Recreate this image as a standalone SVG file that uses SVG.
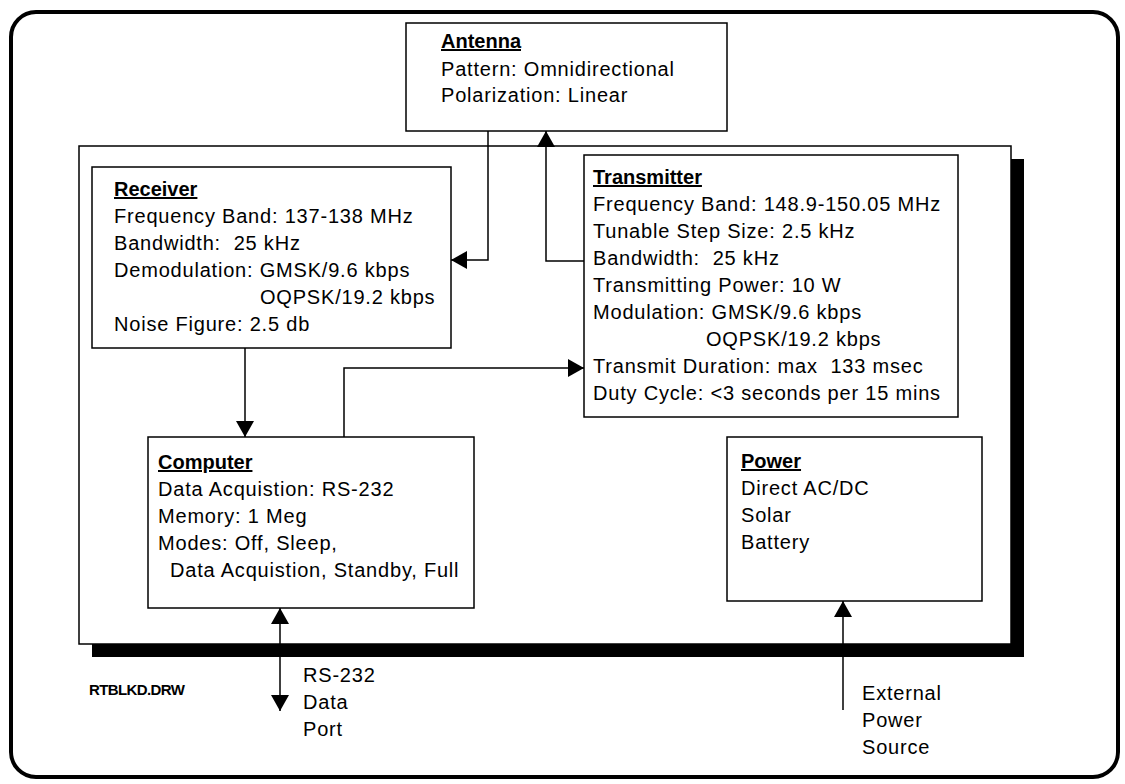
<svg xmlns="http://www.w3.org/2000/svg" width="1125" height="784" viewBox="0 0 1125 784">
<style>
text{font-family:"Liberation Sans",Arial,Helvetica,sans-serif;font-size:20px;fill:#000;letter-spacing:0.8px;white-space:pre}
.h{font-weight:bold;text-decoration:underline;letter-spacing:0}
.box{fill:#fff;stroke:#000;stroke-width:1.5}
.con{fill:none;stroke:#000;stroke-width:1.5}
.sm{font-size:15px;font-weight:bold;letter-spacing:-0.6px}
</style>
<defs>
<marker id="arr" viewBox="0 0 16 18" refX="16" refY="9" markerWidth="16" markerHeight="18" markerUnits="userSpaceOnUse" orient="auto-start-reverse">
<path d="M0,0 L16,9 L0,18 z" fill="#000"/>
</marker>
</defs>
<rect width="1125" height="784" fill="#fff"/>
<rect x="11" y="12" width="1107" height="765" rx="25" ry="25" fill="none" stroke="#000" stroke-width="4"/>
<g id="enclosure">
<rect x="92" y="159" width="932" height="498" fill="#000"/>
<rect x="79" y="146" width="932" height="498" class="box"/>
</g>
<g id="antenna">
<rect x="406" y="23" width="321" height="108" class="box"/>
<text x="441" y="48" class="h">Antenna</text>
<text x="441" y="76">Pattern: Omnidirectional</text>
<text x="441" y="102">Polarization: Linear</text>
</g>
<g id="receiver">
<rect x="92" y="167" width="359" height="181" class="box"/>
<text x="114" y="196" class="h">Receiver</text>
<text x="114" y="223">Frequency Band: 137-138 MHz</text>
<text x="114" y="250" xml:space="preserve">Bandwidth:  25 kHz</text>
<text x="114" y="277">Demodulation: GMSK/9.6 kbps</text>
<text x="260" y="304">OQPSK/19.2 kbps</text>
<text x="114" y="331">Noise Figure: 2.5 db</text>
</g>
<g id="transmitter">
<rect x="584" y="155" width="374" height="262" class="box"/>
<text x="593" y="184" class="h">Transmitter</text>
<text x="593" y="211">Frequency Band: 148.9-150.05 MHz</text>
<text x="593" y="238">Tunable Step Size: 2.5 kHz</text>
<text x="593" y="265" xml:space="preserve">Bandwidth:  25 kHz</text>
<text x="593" y="292">Transmitting Power: 10 W</text>
<text x="593" y="319">Modulation: GMSK/9.6 kbps</text>
<text x="706" y="346">OQPSK/19.2 kbps</text>
<text x="593" y="373" xml:space="preserve">Transmit Duration: max  133 msec</text>
<text x="593" y="400">Duty Cycle: &lt;3 seconds per 15 mins</text>
</g>
<g id="computer">
<rect x="148" y="437" width="326" height="171" class="box"/>
<text x="158" y="469" class="h">Computer</text>
<text x="158" y="496">Data Acquistion: RS-232</text>
<text x="158" y="523">Memory: 1 Meg</text>
<text x="158" y="550">Modes: Off, Sleep,</text>
<text x="170" y="577">Data Acquistion, Standby, Full</text>
</g>
<g id="power">
<rect x="727" y="437" width="255" height="164" class="box"/>
<text x="741" y="468" class="h">Power</text>
<text x="741" y="495">Direct AC/DC</text>
<text x="741" y="522">Solar</text>
<text x="741" y="549">Battery</text>
</g>
<g id="rs232-port">
<text x="303" y="682">RS-232</text>
<text x="303" y="709">Data</text>
<text x="303" y="736">Port</text>
</g>
<g id="external-power">
<text x="862" y="700">External</text>
<text x="862" y="727">Power</text>
<text x="862" y="754">Source</text>
</g>
<text x="89" y="695" class="sm">RTBLKD.DRW</text>
<g id="connectors">
<path class="con" d="M488,131 V260 H451" marker-end="url(#arr)"/>
<path class="con" d="M584,261 H546 V131" marker-end="url(#arr)"/>
<path class="con" d="M245,348 V437" marker-end="url(#arr)"/>
<path class="con" d="M344,437 V368 H584" marker-end="url(#arr)"/>
<path class="con" d="M280,608 V711" marker-start="url(#arr)" marker-end="url(#arr)"/>
<path class="con" d="M843,710 V601" marker-end="url(#arr)"/>
</g>
</svg>
